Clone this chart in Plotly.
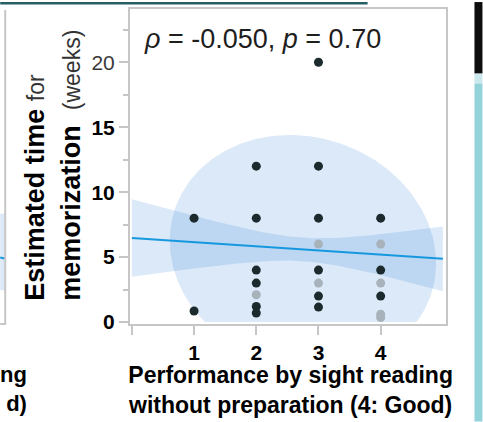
import numpy as np
import plotly.graph_objects as go

# --- data -----------------------------------------------------------------
# sight-reading score (1-4) vs. estimated weeks to memorize a piece
sight_reading_dark = [1, 1, 2, 2, 2, 2, 2, 2, 3, 3, 3, 3, 3, 3, 4, 4, 4]
weeks_dark = [8, 0.85, 12, 8, 4, 3, 1.2, 0.7, 20, 12, 8, 4, 2, 1.15, 8, 4, 2]

sight_reading_light = [2, 3, 3, 4, 4, 4, 4]
weeks_light = [2.1, 6, 3, 6, 3, 0.6, 0.35]

# least-squares fit and its confidence band
fit_intercept = 6.47
fit_slope = -0.32
fit_x_span = [0, 5]
band_center_x = 2.75
band_min_halfwidth = 0.9
band_spread = 1.07

# bivariate density ellipse
ellipse_center = [2.75, 5.4]
ellipse_radii = [2.13, 9.0]
ellipse_shear = -0.023

stats_text = "<i>ρ</i> = -0.050, <i>p</i> = 0.70"
x_tick_values = [0, 1, 2, 3, 4]
x_tick_text = ["", "<b>1</b>", "<b>2</b>", "<b>3</b>", "<b>4</b>"]
y_tick_values = [0, 5, 10, 15, 20]
y_tick_text = ["<b>0</b>", "<b>5</b>", "<b>10</b>", "<b>15</b>",
               "<span style='color:#3a3a3a'>20</span>"]
y_minor_values = [2.5, 7.5, 12.5, 17.5, 22.5]

# --- geometry helpers ------------------------------------------------------
W, H = 483, 422
L, R, T, B = 130, 36.5, 7, 98
PW, PH = W - L - R, H - T - B


def px2x(px):
    return (px - L) / PW


def py2y(py):
    return 1 - (py - T) / PH


FONT = "Liberation Sans, Arial, sans-serif"
BLUE_FILL = "rgba(66,140,220,0.19)"
FRAME = "#c6c6c6"

fig = go.Figure()

# density ellipse, clipped at zero weeks
t = np.linspace(0, 2 * np.pi, 240)
ey = ellipse_center[1] + ellipse_radii[1] * np.sin(t)
ex = ellipse_center[0] + ellipse_radii[0] * np.cos(t) + ellipse_shear * (ey - ellipse_center[1])
ey = np.maximum(ey, 0)
fig.add_trace(go.Scatter(x=ex, y=ey, mode="lines", fill="toself",
                         fillcolor=BLUE_FILL, line=dict(width=0),
                         hoverinfo="skip"))

# confidence band around the fit
xs = np.linspace(fit_x_span[0], fit_x_span[1], 101)
fit = fit_intercept + fit_slope * xs
hw = np.sqrt(band_min_halfwidth ** 2 + band_spread * (xs - band_center_x) ** 2)
fig.add_trace(go.Scatter(x=np.concatenate([xs, xs[::-1]]),
                         y=np.concatenate([fit + hw, (fit - hw)[::-1]]),
                         mode="lines", fill="toself", fillcolor=BLUE_FILL,
                         line=dict(width=0), hoverinfo="skip"))

# fit line
fx = np.array(fit_x_span, dtype=float)
fig.add_trace(go.Scatter(x=fx, y=fit_intercept + fit_slope * fx, mode="lines",
                         line=dict(color="#1798de", width=2)))

# responses
fig.add_trace(go.Scatter(x=sight_reading_light, y=weeks_light, mode="markers",
                         marker=dict(size=9, color="#a7b2ba")))
fig.add_trace(go.Scatter(x=sight_reading_dark, y=weeks_dark, mode="markers",
                         marker=dict(size=9, color="#1c292d")))

axis_common = dict(showgrid=False, zeroline=False, showline=True,
                   linecolor=FRAME, linewidth=2, mirror=True,
                   ticks="outside", ticklen=9, tickwidth=2, tickcolor=FRAME,
                   tickmode="array",
                   tickfont=dict(family=FONT, size=21, color="black"))

fig.update_layout(
    width=W, height=H,
    margin=dict(l=L, r=R, t=T, b=B, pad=0),
    plot_bgcolor="white", paper_bgcolor="white",
    showlegend=False,
    xaxis=dict(range=[-0.03, 5.05], tickvals=x_tick_values,
               ticktext=x_tick_text, **axis_common),
    yaxis=dict(range=[-0.15, 24.1], tickvals=y_tick_values,
               ticktext=y_tick_text,
               minor=dict(tickvals=y_minor_values, ticks="outside",
                          ticklen=5, tickwidth=2, tickcolor=FRAME,
                          showgrid=False),
               **axis_common),
)

# correlation label
fig.add_annotation(text=stats_text, xref="paper", yref="paper",
                   x=px2x(142), y=py2y(37), xanchor="left", yanchor="middle",
                   showarrow=False, font=dict(family=FONT, size=27, color="#1e1e1e"))

# axis titles
fig.add_annotation(
    text="<b>Estimated time</b> <span style='color:#333;font-size:23px'>for</span><br>"
         "<b>memorization</b>  <span style='color:#333;font-size:23px'>(weeks)</span>",
    xref="paper", yref="paper", x=px2x(53), y=py2y(303),
    xanchor="center", yanchor="bottom", textangle=-90, align="left",
    showarrow=False, font=dict(family=FONT, size=27, color="black"))

x_title = "Performance by sight reading<br>without preparation (4: Good)"
fig.add_annotation(text=x_title, xref="paper", yref="paper",
                   x=px2x(291), y=py2y(360), xanchor="center", yanchor="top",
                   align="center", showarrow=False,
                   font=dict(family=FONT, size=23, color="black", weight="bold"))

# neighbouring panel edge: tail of its axis title and its frame
fig.add_annotation(text="ng<br>d)", xref="paper", yref="paper",
                   x=px2x(-2), y=py2y(360), xanchor="left", yanchor="top",
                   align="right", showarrow=False,
                   font=dict(family=FONT, size=22, color="black", weight="bold"))

shapes = [
    dict(type="line", x0=px2x(5), x1=px2x(5), y0=py2y(8), y1=py2y(324),
         line=dict(color=FRAME, width=2)),
    dict(type="line", x0=px2x(0), x1=px2x(6), y0=py2y(324), y1=py2y(324),
         line=dict(color=FRAME, width=2)),
    dict(type="rect", x0=px2x(0), x1=px2x(4), y0=py2y(213), y1=py2y(290),
         fillcolor=BLUE_FILL, line=dict(width=0)),
    dict(type="line", x0=px2x(0), x1=px2x(4), y0=py2y(257), y1=py2y(258),
         line=dict(color="#1798de", width=2)),
    # strip along the top and the right-hand edge
    dict(type="rect", x0=px2x(0), x1=px2x(368), y0=py2y(0), y1=py2y(2.5),
         fillcolor="#235f63", line=dict(width=0)),
    dict(type="rect", x0=px2x(475), x1=px2x(483), y0=py2y(0), y1=py2y(72),
         fillcolor="#0d0d0d", line=dict(width=0)),
    dict(type="rect", x0=px2x(475), x1=px2x(483), y0=py2y(72), y1=py2y(82),
         fillcolor="#cbe8ec", line=dict(width=0)),
    dict(type="rect", x0=px2x(475), x1=px2x(483), y0=py2y(82), y1=py2y(422),
         fillcolor="#95d3db", line=dict(width=0)),
]
for s in shapes:
    s.update(xref="paper", yref="paper", layer="above")
    fig.add_shape(**s)

fig.write_html("out.html")
